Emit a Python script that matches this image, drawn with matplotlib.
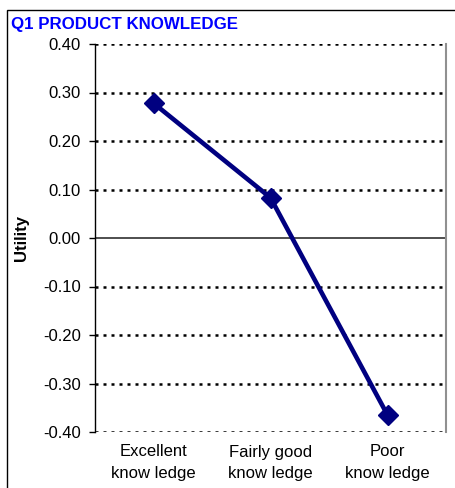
import matplotlib
matplotlib.use("Agg")
import matplotlib.pyplot as plt
from matplotlib.patches import Rectangle

plt.rcParams['font.family'] = ['Liberation Sans', 'DejaVu Sans']

categories = ["Excellent\nknow ledge", "Fairly good\nknow ledge", "Poor\nknow ledge"]
utility = [0.278, 0.083, -0.365]
yticks = [0.40, 0.30, 0.20, 0.10, 0.00, -0.10, -0.20, -0.30, -0.40]
title = "Q1 PRODUCT KNOWLEDGE"
ylabel = "Utility"

W, H = 455, 488
fig = plt.figure(figsize=(W / 100, H / 100), dpi=100)
fig.patch.set_facecolor('white')

# outer chart border
fig.patches.append(Rectangle((7 / W, -0.1), 1.2, (H - 10) / H + 0.1,
                             transform=fig.transFigure, fill=False,
                             edgecolor='black', linewidth=1.0, zorder=0))

ax = fig.add_axes([95 / W, (H - 432) / H, (446 - 95) / W, (432 - 44) / H])
x = list(range(len(categories)))

# gridlines
for v in yticks:
    if abs(v) < 1e-9:
        ax.axhline(v, color='#404040', linewidth=1.3, zorder=1)
    else:
        ax.axhline(v, color='black', linewidth=1.8, linestyle=(0, (1.2, 2.0)), zorder=1)

ax.plot(x, utility, color='#000080', linewidth=3.3, marker='D', markersize=10.5,
        zorder=3, clip_on=False)

ax.set_xlim(-0.5, 2.5)
ax.set_ylim(-0.40, 0.40)
ax.set_yticks(yticks)
ax.set_yticklabels([f"{v:.2f}" for v in yticks])
ax.set_xticks(x)
ax.set_xticklabels(categories, linespacing=1.55)
ax.tick_params(axis='x', length=0, pad=9, labelsize=12)
ax.tick_params(axis='y', length=4, width=1, pad=6, labelsize=12, direction='out')

for s in ['top', 'bottom']:
    ax.spines[s].set_visible(False)
ax.spines['left'].set_color('black')
ax.spines['left'].set_linewidth(1.0)
ax.spines['right'].set_color('#909090')
ax.spines['right'].set_linewidth(1.5)

fig.text(11 / W, (H - 29) / H, title, color='#0000FF', fontsize=12.2,
         fontweight='bold', ha='left', va='baseline')
fig.text(22 / W, (H - 238) / H, ylabel, fontsize=12, fontweight='bold',
         rotation=90, ha='center', va='center')

fig.savefig('out.png', dpi=100)
